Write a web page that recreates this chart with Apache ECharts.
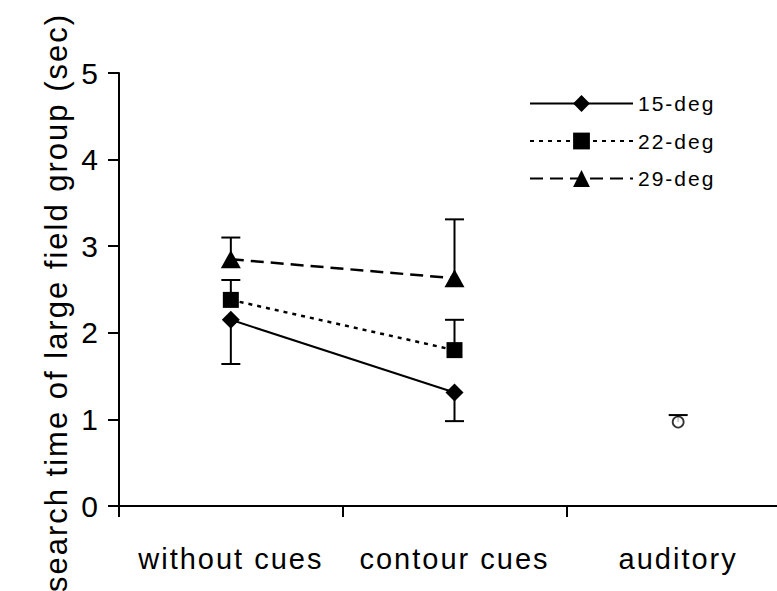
<!DOCTYPE html>
<html>
<head>
<meta charset="utf-8">
<script src="https://cdn.jsdelivr.net/npm/echarts@6/dist/echarts.min.js"></script>
<style>
html,body{margin:0;padding:0;background:#fff;}
#chart{width:777px;height:591px;letter-spacing:2px;}
</style>
</head>
<body>
<div id="chart"></div>
<script>
// ---- data ----
const categories = ['without cues', 'contour cues', 'auditory'];
const seriesNames = ['15-deg', '22-deg', '29-deg'];
const deg15 = [2.15, 1.31, null];
const deg22 = [2.38, 1.80, null];
const deg29 = [2.85, 2.63, null];
const auditory = [null, null, 0.97];
// error bar end points (one-sided)
const deg15ErrLow = [1.64, 0.98, null];
const deg22ErrHigh = [2.61, 2.15, null];
const deg29ErrHigh = [3.10, 3.31, null];
const auditoryErrHigh = [null, null, 1.05];
const yTicks = [0, 1, 2, 3, 4, 5];

const FONT = "'Liberation Sans', Arial, sans-serif";

function errData(values, ends) {
  const out = [];
  values.forEach((v, i) => {
    if (v != null && ends[i] != null) out.push([i, v, ends[i]]);
  });
  return out;
}

const errorRows = []
  .concat(errData(deg15, deg15ErrLow))
  .concat(errData(deg22, deg22ErrHigh))
  .concat(errData(deg29, deg29ErrHigh))
  .concat(errData(auditory, auditoryErrHigh));

function renderErr(params, api) {
  const x = api.value(0);
  const p0 = api.coord([x, api.value(1)]);
  const p1 = api.coord([x, api.value(2)]);
  const half = 9.5;
  const style = { stroke: '#000', lineWidth: 2, fill: null };
  return {
    type: 'group',
    children: [
      { type: 'line', shape: { x1: p0[0], y1: p0[1], x2: p1[0], y2: p1[1] }, style: style },
      { type: 'line', shape: { x1: p1[0] - half, y1: p1[1], x2: p1[0] + half, y2: p1[1] }, style: style }
    ]
  };
}

const chart = echarts.init(document.getElementById('chart'), null, { renderer: 'svg' });
chart.setOption({
  animation: false,
  backgroundColor: '#fff',
  textStyle: { fontFamily: FONT, color: '#000' },
  grid: { left: 119, right: -13, top: 73, bottom: 85, outerBoundsMode: 'none', containLabel: false },
  legend: {
    data: seriesNames,
    orient: 'vertical',
    left: 529,
    top: 93,
    padding: 0,
    itemWidth: 103,
    itemHeight: 21,
    itemGap: 16.5,
    textStyle: { fontFamily: FONT, fontSize: 21, color: '#000' }
  },
  xAxis: {
    type: 'category',
    data: categories,
    boundaryGap: true,
    axisLine: { lineStyle: { color: '#000', width: 2 } },
    axisTick: { show: true, length: 11, lineStyle: { color: '#000', width: 2 } },
    axisLabel: { fontFamily: FONT, fontSize: 29, color: '#000', margin: 38, interval: 0 },
    splitLine: { show: false }
  },
  yAxis: {
    type: 'value',
    min: yTicks[0],
    max: yTicks[yTicks.length - 1],
    interval: 1,
    name: 'search time of large field group (sec)',
    nameLocation: 'middle',
    nameGap: 46,
    nameTextStyle: { fontFamily: FONT, fontSize: 31, color: '#000', padding: [0, 26, 0, 0] },
    axisLine: { show: true, lineStyle: { color: '#000', width: 2 } },
    axisTick: { show: true, length: 11, lineStyle: { color: '#000', width: 2 } },
    axisLabel: { fontFamily: FONT, fontSize: 30, color: '#000', margin: 19 },
    splitLine: { show: false }
  },
  series: [
    {
      type: 'custom',
      name: 'errors',
      renderItem: renderErr,
      data: errorRows,
      z: 1,
      silent: true
    },
    {
      type: 'line', name: seriesNames[0], data: deg15,
      symbol: 'diamond', symbolSize: 18, showAllSymbol: true,
      lineStyle: { color: '#000', width: 2, type: 'solid' },
      itemStyle: { color: '#000' }, z: 3
    },
    {
      type: 'line', name: seriesNames[1], data: deg22,
      symbol: 'rect', symbolSize: 16,
      lineStyle: { color: '#000', width: 2.5, type: [4, 5] },
      itemStyle: { color: '#000' }, z: 3
    },
    {
      type: 'line', name: seriesNames[2], data: deg29,
      symbol: 'triangle', symbolSize: [20, 18],
      lineStyle: { color: '#000', width: 2.5, type: [13, 7] },
      itemStyle: { color: '#000' }, z: 3
    },
    {
      type: 'scatter', name: 'auditory', data: auditory,
      symbol: 'circle', symbolSize: 11,
      itemStyle: { color: '#fff', borderColor: '#000', borderWidth: 1.8 }, z: 3
    }
  ]
});
</script>
</body>
</html>
